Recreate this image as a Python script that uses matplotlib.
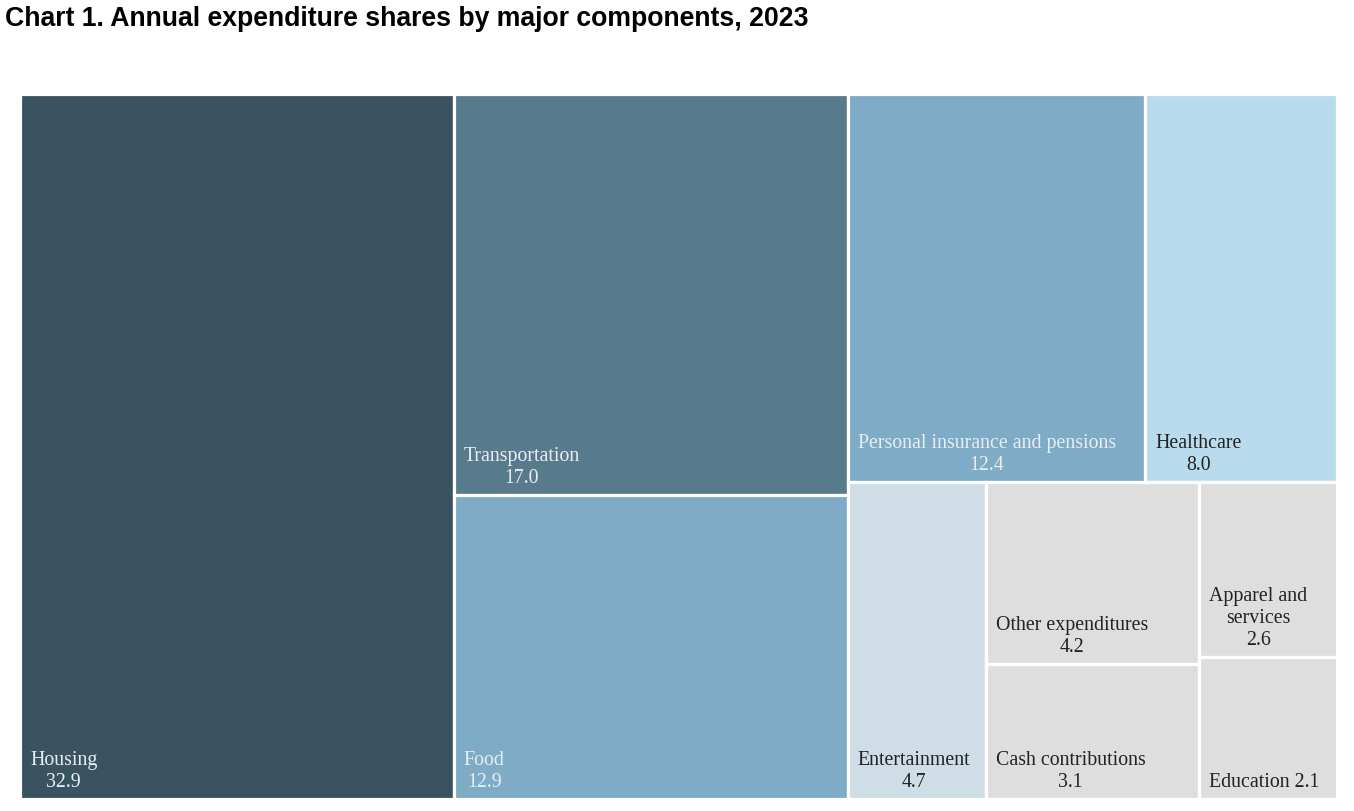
import matplotlib
matplotlib.use("Agg")
import matplotlib.pyplot as plt
from matplotlib.patches import Rectangle

# data: share of annual expenditures, 2023 (percent)
labels = ["Housing", "Transportation", "Food", "Personal insurance and pensions",
          "Healthcare", "Entertainment", "Other expenditures", "Cash contributions",
          "Apparel and\nservices", "Education"]
values = [32.9, 17.0, 12.9, 12.4, 8.0, 4.7, 4.2, 3.1, 2.6, 2.1]
colors = ["#3a5360", "#587a8d", "#7eabc5", "#7eabc5", "#badbee",
          "#cedde6", "#dedede", "#dedede", "#dedede", "#dedede"]
text_colors = ["#e8eef2", "#e8eef2", "#e8eef2", "#e8eef2", "#222222",
               "#222222", "#222222", "#222222", "#222222", "#222222"]
inline_value = [False] * 9 + [True]

# treemap nesting: "h" splits left-to-right, "v" splits top-to-bottom
tree = ("h", [0,
              ("v", [1, 2]),
              ("v", [("h", [3, 4]),
                     ("h", [5, ("v", [6, 7]), ("v", [8, 9])])])])


def total(node):
    if isinstance(node, int):
        return values[node]
    return sum(total(c) for c in node[1])


def layout(node, x, y, w, h, out):
    if isinstance(node, int):
        out[node] = (x, y, w, h)
        return
    d, kids = node
    s = total(node)
    pos = 0.0
    for k in kids:
        f = total(k) / s
        if d == "h":
            layout(k, x + pos * w, y, w * f, h, out)
        else:
            layout(k, x, y + pos * h, w, h * f, out)
        pos += f


rects = {}
layout(tree, 0, 0, 1, 1, rects)

W, H = 1354, 812
fig = plt.figure(figsize=(W / 100, H / 100), dpi=100)
ax = fig.add_axes([20 / W, 1 - 800 / H, 1317 / W, 705 / H])
ax.set_xlim(0, 1)
ax.set_ylim(1, 0)
ax.axis("off")

for i, lab in enumerate(labels):
    x, y, w, h = rects[i]
    ax.add_patch(Rectangle((x, y), w, h, facecolor=colors[i], edgecolor="white",
                           linewidth=2.3, clip_on=False))
    txt = f"{lab} {values[i]:.1f}" if inline_value[i] else f"{lab}\n{values[i]:.1f}"
    ax.annotate(txt, xy=(x, y + h), xytext=(10, 8), textcoords="offset pixels",
                ha="left", va="bottom", multialignment="center",
                fontsize=14.3, family="Liberation Serif", color=text_colors[i],
                linespacing=1.22)

fig.text(5 / W, 1 - 19 / H, "Chart 1. Annual expenditure shares by major components, 2023",
         ha="left", va="center", fontsize=19.2, fontweight="bold",
         family="Liberation Sans", color="black")

fig.savefig("out.png", dpi=100, facecolor="white")
